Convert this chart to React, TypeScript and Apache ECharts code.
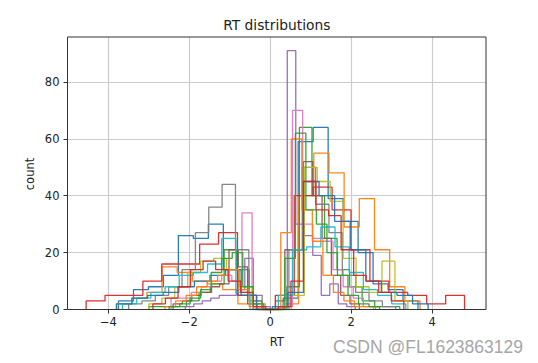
import React, { useEffect, useRef } from "react";
import * as echarts from "echarts";

// tab10 colour cycle (14 subjects)
const colors = [
  "#1f77b4", "#ff7f0e", "#2ca02c", "#d62728", "#9467bd", "#8c564b", "#e377c2",
  "#7f7f7f", "#bcbd22", "#17becf", "#1f77b4", "#ff7f0e", "#2ca02c", "#d62728",
];

// each subject: [min RT, max RT] split into 20 equal bins, and the counts per bin
const ranges: [number, number][] = [
  [-3.75, 3.65],
  [-3.8, 3.7],
  [-3.0, 3.2],
  [-4.55, 4.8],
  [-2.1, 2.1],
  [-2.4, 2.2],
  [-2.45, 2.55],
  [-3.5, 3.1],
  [-3.0, 3.4],
  [-3.65, 3.35],
  [-3.8, 3.9],
  [-2.6, 2.6],
  [-2.5, 2.7],
  [-2.9, 3.3],
];

const counts01 = [3, 7, 8, 12, 26, 25, 30, 14, 5, 0, 0, 4, 59, 64, 39, 31, 20, 9, 7, 3];
const counts02 = [2, 4, 6, 15, 13, 10, 9, 7, 2, 0, 0, 2, 40, 55, 48, 29, 39, 21, 8, 3];
const counts03 = [1, 1, 1, 3, 6, 9, 21, 14, 3, 0, 0, 8, 64, 40, 25, 14, 8, 3, 1, 1];
const counts04 = [3, 5, 5, 10, 16, 16, 23, 27, 5, 0, 5, 40, 43, 35, 21, 10, 6, 5, 2, 5];
const counts05 = [1, 2, 3, 4, 5, 5, 7, 18, 3, 1, 0, 1, 91, 30, 26, 19, 5, 9, 2, 1];
const counts06 = [2, 3, 5, 6, 8, 9, 21, 15, 2, 0, 0, 3, 21, 21, 52, 40, 25, 12, 5, 2];
const counts07 = [4, 4, 6, 8, 10, 12, 10, 34, 2, 0, 0, 1, 70, 30, 25, 24, 14, 8, 4, 1];
const counts08 = [2, 3, 5, 8, 14, 27, 36, 44, 21, 5, 0, 0, 21, 50, 37, 27, 12, 6, 3, 1];
const counts09 = [2, 4, 8, 13, 17, 18, 14, 8, 2, 0, 0, 5, 50, 45, 38, 18, 8, 6, 17, 3];
const counts10 = [2, 4, 6, 8, 12, 13, 16, 25, 6, 0, 0, 5, 21, 22, 29, 22, 13, 7, 5, 2];
const counts11 = [2, 4, 5, 6, 8, 10, 12, 14, 5, 0, 1, 6, 45, 40, 31, 21, 10, 6, 5, 2];
const counts12 = [1, 3, 5, 8, 10, 12, 14, 7, 1, 0, 0, 27, 60, 35, 24, 12, 6, 3, 1, 1];
const counts13 = [1, 2, 4, 7, 13, 18, 20, 8, 2, 0, 0, 18, 62, 35, 30, 20, 12, 5, 2, 1];
const counts14 = [2, 4, 8, 14, 17, 14, 10, 6, 1, 0, 1, 10, 45, 35, 33, 21, 12, 10, 6, 3];

const allCounts = [
  counts01, counts02, counts03, counts04, counts05, counts06, counts07,
  counts08, counts09, counts10, counts11, counts12, counts13, counts14,
];

const xTicks = [-4, -2, 0, 2, 4];
const yTicks = [0, 20, 40, 60, 80];

const titleText = "RT distributions";
const xLabel = "RT";
const yLabel = "count";
const watermark = "CSDN @FL1623863129";

// step outline of a histogram (histtype="step")
function stepPoints(range: [number, number], counts: number[]): number[][] {
  const n = counts.length;
  const w = (range[1] - range[0]) / n;
  const pts: number[][] = [[range[0], 0]];
  for (let i = 0; i < n; i++) {
    const a = range[0] + i * w;
    const b = range[0] + (i + 1) * w;
    pts.push([a, counts[i]]);
    pts.push([b, counts[i]]);
  }
  pts.push([range[1], 0]);
  return pts;
}

const fmt = (v: number) => (v < 0 ? "\u2212" + Math.abs(v) : String(v));

export default function App() {
  const ref = useRef<HTMLDivElement>(null);
  useEffect(() => {
    if (!ref.current) return;
    const chart = echarts.init(ref.current, null, { renderer: "svg" });
    const font = "DejaVu Sans";
    const series = allCounts.map((c, i) => ({
      type: "line",
      data: stepPoints(ranges[i], c),
      symbol: "none",
      silent: true,
      z: 3,
      lineStyle: { color: colors[i], width: 1.3, opacity: 0.95 },
    }));
    chart.setOption({
      animation: false,
      backgroundColor: "#ffffff",
      grid: {
        left: 67.5,
        right: 52,
        top: 37,
        bottom: 53.5,
        show: true,
        borderColor: "#333333",
        borderWidth: 1,
        backgroundColor: "transparent",
        z: 4,
      },
      xAxis: {
        type: "value",
        min: -5.01,
        max: 5.33,
        axisLine: { show: false, onZero: false },
        axisTick: {
          show: true,
          length: 4,
          customValues: xTicks,
          lineStyle: { color: "#333333", width: 1 },
        },
        axisLabel: {
          customValues: xTicks,
          formatter: (v: number) => fmt(v),
          color: "#222222",
          fontFamily: font,
          fontSize: 11.5,
          margin: 6,
        },
        splitLine: { show: true, lineStyle: { color: "#cccccc", width: 1.2 } },
      },
      yAxis: {
        type: "value",
        min: 0,
        max: 95.8,
        axisLine: { show: false, onZero: false },
        axisTick: {
          show: true,
          length: 4,
          customValues: yTicks,
          lineStyle: { color: "#333333", width: 1 },
        },
        axisLabel: {
          customValues: yTicks,
          formatter: (v: number) => fmt(v),
          color: "#222222",
          fontFamily: font,
          fontSize: 11.5,
          margin: 8,
        },
        splitLine: { show: true, lineStyle: { color: "#cccccc", width: 1.2 } },
      },
      graphic: [
        {
          type: "text",
          x: 276.8,
          y: 25,
          style: {
            text: titleText,
            fontFamily: font,
            fontSize: 13.8,
            fill: "#222222",
            align: "center",
            verticalAlign: "middle",
          },
        },
        {
          type: "text",
          x: 276.8,
          y: 342,
          style: {
            text: xLabel,
            fontFamily: font,
            fontSize: 11.5,
            fill: "#222222",
            align: "center",
            verticalAlign: "middle",
          },
        },
        {
          type: "text",
          x: 30,
          y: 174,
          rotation: Math.PI / 2,
          style: {
            text: yLabel,
            fontFamily: font,
            fontSize: 11.5,
            fill: "#222222",
            align: "center",
            verticalAlign: "middle",
          },
        },
        {
          type: "text",
          x: 523,
          y: 347,
          style: {
            text: watermark,
            fontFamily: "Liberation Sans",
            fontSize: 17.5,
            fill: "#a6a6a6",
            align: "right",
            verticalAlign: "middle",
          },
        },
      ],
      series,
    });
    return () => chart.dispose();
  }, []);
  return <div ref={ref} style={{ width: 538, height: 363, position: "absolute", left: 0, top: 0 }} />;
}
